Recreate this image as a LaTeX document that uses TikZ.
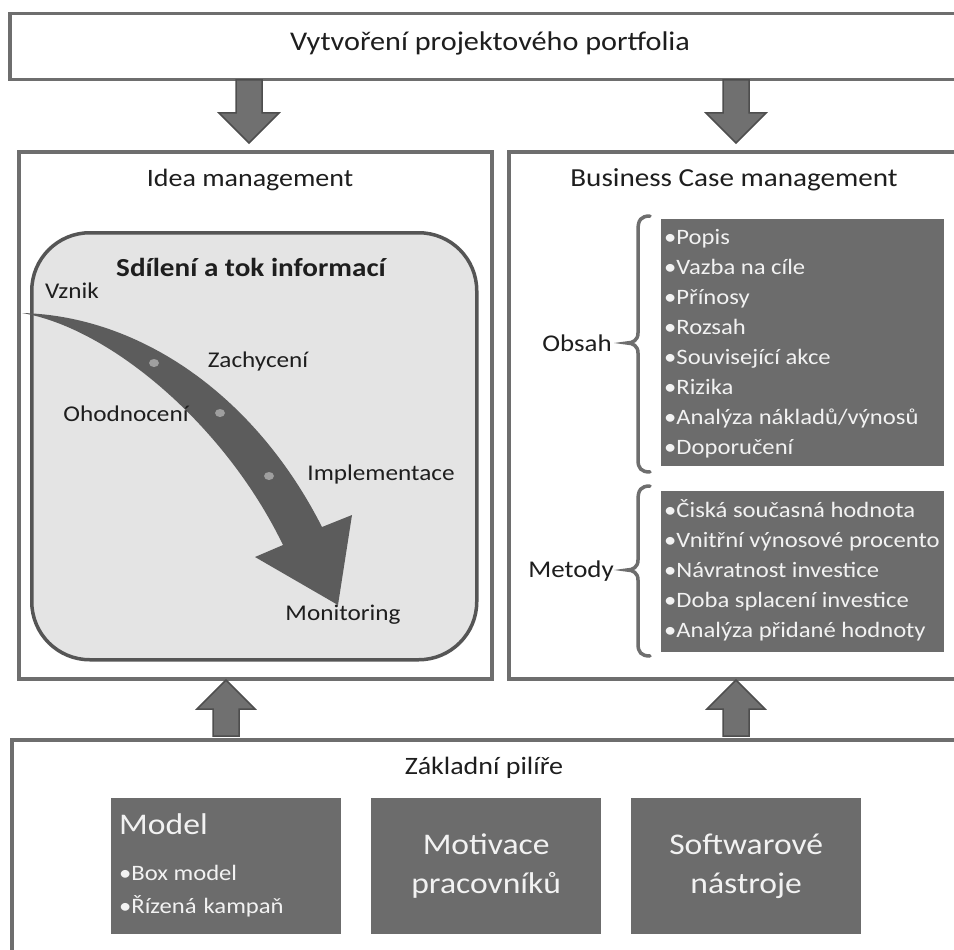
\documentclass[tikz,border=0pt]{standalone}
\usepackage{fontspec}
\setmainfont{Carlito}[FakeStretch=1.12]
\usetikzlibrary{calc}
\definecolor{bord}{HTML}{6E6E6E}
\definecolor{boxg}{HTML}{6C6C6C}
\definecolor{roundf}{HTML}{E4E4E4}
\definecolor{roundb}{HTML}{555555}
\definecolor{arrowg}{HTML}{5C5C5C}
\definecolor{txt}{HTML}{1E1E1E}
\definecolor{wtxt}{HTML}{F2F2F2}
\definecolor{barf}{HTML}{707070}
\definecolor{bard}{HTML}{4E4E4E}
\begin{document}
\begin{tikzpicture}[x=1pt,y=-1pt,
  outerbox/.style={draw=bord,line width=3.5pt,fill=white,anchor=north west,inner sep=0pt},
  darkbox/.style={fill=boxg,draw=none,anchor=north west,inner sep=0pt},
  lbl/.style={text=txt,inner sep=0pt,font=\fontsize{25}{29}\selectfont},
  flowlbl/.style={text=txt,inner sep=0pt,font=\fontsize{22.5}{26}\selectfont},
  itm/.style={text=wtxt,inner sep=0pt,anchor=base west,font=\fontsize{22}{26}\selectfont},
  bigw/.style={text=wtxt,inner sep=0pt,align=center,font=\fontsize{30}{39}\selectfont},
  blockarrow/.style={fill=barf,draw=bard,line width=1.5pt,line join=miter},
  bracestyle/.style={draw=bord,line width=3.5pt,line cap=round},
  dotstyle/.style={fill=gray!75!white}
]
\useasboundingbox (0,0) rectangle (954,950);
\clip (0,0) rectangle (954,950);
\fill[white] (0,0) rectangle (954,950);

% outer boxes
\node[outerbox,minimum width=970,minimum height=66] (top) at (8,12) {};
\node[text=txt,inner sep=0pt,font=\fontsize{27}{31}\selectfont] (toptext) at (490,43) {Vytvoření projektového portfolia};

\node[outerbox,minimum width=473,minimum height=527] (idea) at (17,150) {};
\node[outerbox,minimum width=470,minimum height=527] (bcm) at (507,150) {};
\node[outerbox,minimum width=970,minimum height=240] (base) at (10,738) {};

% block arrows down
\coordinate (d1) at (249,80);
\coordinate (d2) at (736,80);
\foreach \c in {d1,d2}{
  \draw[blockarrow] ($(\c)+(-13,0)$) -- ++(26,0) -- ++(0,33) -- ++(17,0) -- ++(-30,30) -- ++(-30,-30) -- ++(17,0) -- cycle;
}
% block arrows up
\coordinate (u1) at (226,736);
\coordinate (u2) at (736,736);
\foreach \c in {u1,u2}{
  \draw[blockarrow] ($(\c)+(-13,0)$) -- ++(26,0) -- ++(0,-27) -- ++(16,0) -- ++(-29,-29) -- ++(-29,29) -- ++(16,0) -- cycle;
}

% Idea management
\node[lbl] (ideatitle) at (250,180) {Idea management};
\node[draw=roundb,line width=3.5pt,fill=roundf,rounded corners=58pt,anchor=north west,minimum width=445,minimum height=427,inner sep=0pt] (flow) at (30,231) {};
\node[text=txt,inner sep=0pt,font=\bfseries\fontsize{26}{30}\selectfont] (flowtitle) at (251,267) {Sdílení a tok informací};

% curved arrow
\fill[arrowg] (22,313) .. controls (140,316) and (255,395) .. (322,527)
  -- (352,515) -- (338,605) -- (255,557) -- (283,545)
  .. controls (225,425) and (110,328) .. (22,313) -- cycle;
\foreach \p in {(154,363),(220,413),(269,476)}{
  \fill[dotstyle] \p ellipse (5 and 4);
}
\node[flowlbl] (vznik) at (72,291) {Vznik};
\node[flowlbl] (zach) at (258,361) {Zachycení};
\node[flowlbl] (ohod) at (126,414) {Ohodnocení};
\node[flowlbl] (impl) at (381,474) {Implementace};
\node[flowlbl] (moni) at (343,615) {Monitoring};

% Business case management
\node[lbl,font=\fontsize{26}{30}\selectfont] (bcmtitle) at (734,180) {Business Case management};
\node[darkbox,minimum width=283,minimum height=247] (obsah) at (661,219) {};
\node[darkbox,minimum width=283,minimum height=161] (metody) at (661,491) {};

\draw[bracestyle] (650,216) .. controls (641,216) and (638,220) .. (638,230) -- (638,333)
  .. controls (638,340) and (633,343) .. (627,343) .. controls (633,343) and (638,346) .. (638,353)
  -- (638,460) .. controls (638,468) and (641,472) .. (650,472);
\draw[bracestyle] (650,486) .. controls (641,486) and (638,490) .. (638,500) -- (638,560)
  .. controls (638,567) and (633,570) .. (627,570) .. controls (633,570) and (638,573) .. (638,580)
  -- (638,644) .. controls (638,652) and (641,656) .. (650,656);

\node[flowlbl,font=\fontsize{24}{28}\selectfont] (obsahl) at (577,343) {Obsah};
\node[flowlbl,font=\fontsize{24}{28}\selectfont] (metodyl) at (571,571) {Metody};

\node[itm] at (664,244) {•Popis};
\node[itm] at (664,274) {•Vazba na cíle};
\node[itm] at (664,304) {•Přínosy};
\node[itm] at (664,334) {•Rozsah};
\node[itm] at (664,364) {•Související akce};
\node[itm] at (664,394) {•Rizika};
\node[itm] at (664,424) {•Analýza nákladů/výnosů};
\node[itm] at (664,454) {•Doporučení};

\node[itm] at (664,517) {•Čiská současná hodnota};
\node[itm] at (664,547) {•Vnitřní výnosové procento};
\node[itm] at (664,577) {•Návratnost investice};
\node[itm] at (664,607) {•Doba splacení investice};
\node[itm] at (664,637) {•Analýza přidané hodnoty};

% Zakladni pilire
\node[lbl] (basetitle) at (484,768) {Základní pilíře};
\node[darkbox,minimum width=230,minimum height=136] (model) at (111,798) {};
\node[darkbox,minimum width=230,minimum height=136] (motiv) at (371,798) {};
\node[darkbox,minimum width=230,minimum height=136] (soft) at (631,798) {};

\node[bigw,anchor=west] at (119,824) {Model};
\node[itm] at (119,880) {•Box model};
\node[itm] at (119,913) {•Řízená\hspace{7pt}kampaň};
\node[bigw] at (motiv.center) {Motivace\\pracovníků};
\node[bigw] at (soft.center) {Softwarové\\nástroje};
\end{tikzpicture}
\end{document}
